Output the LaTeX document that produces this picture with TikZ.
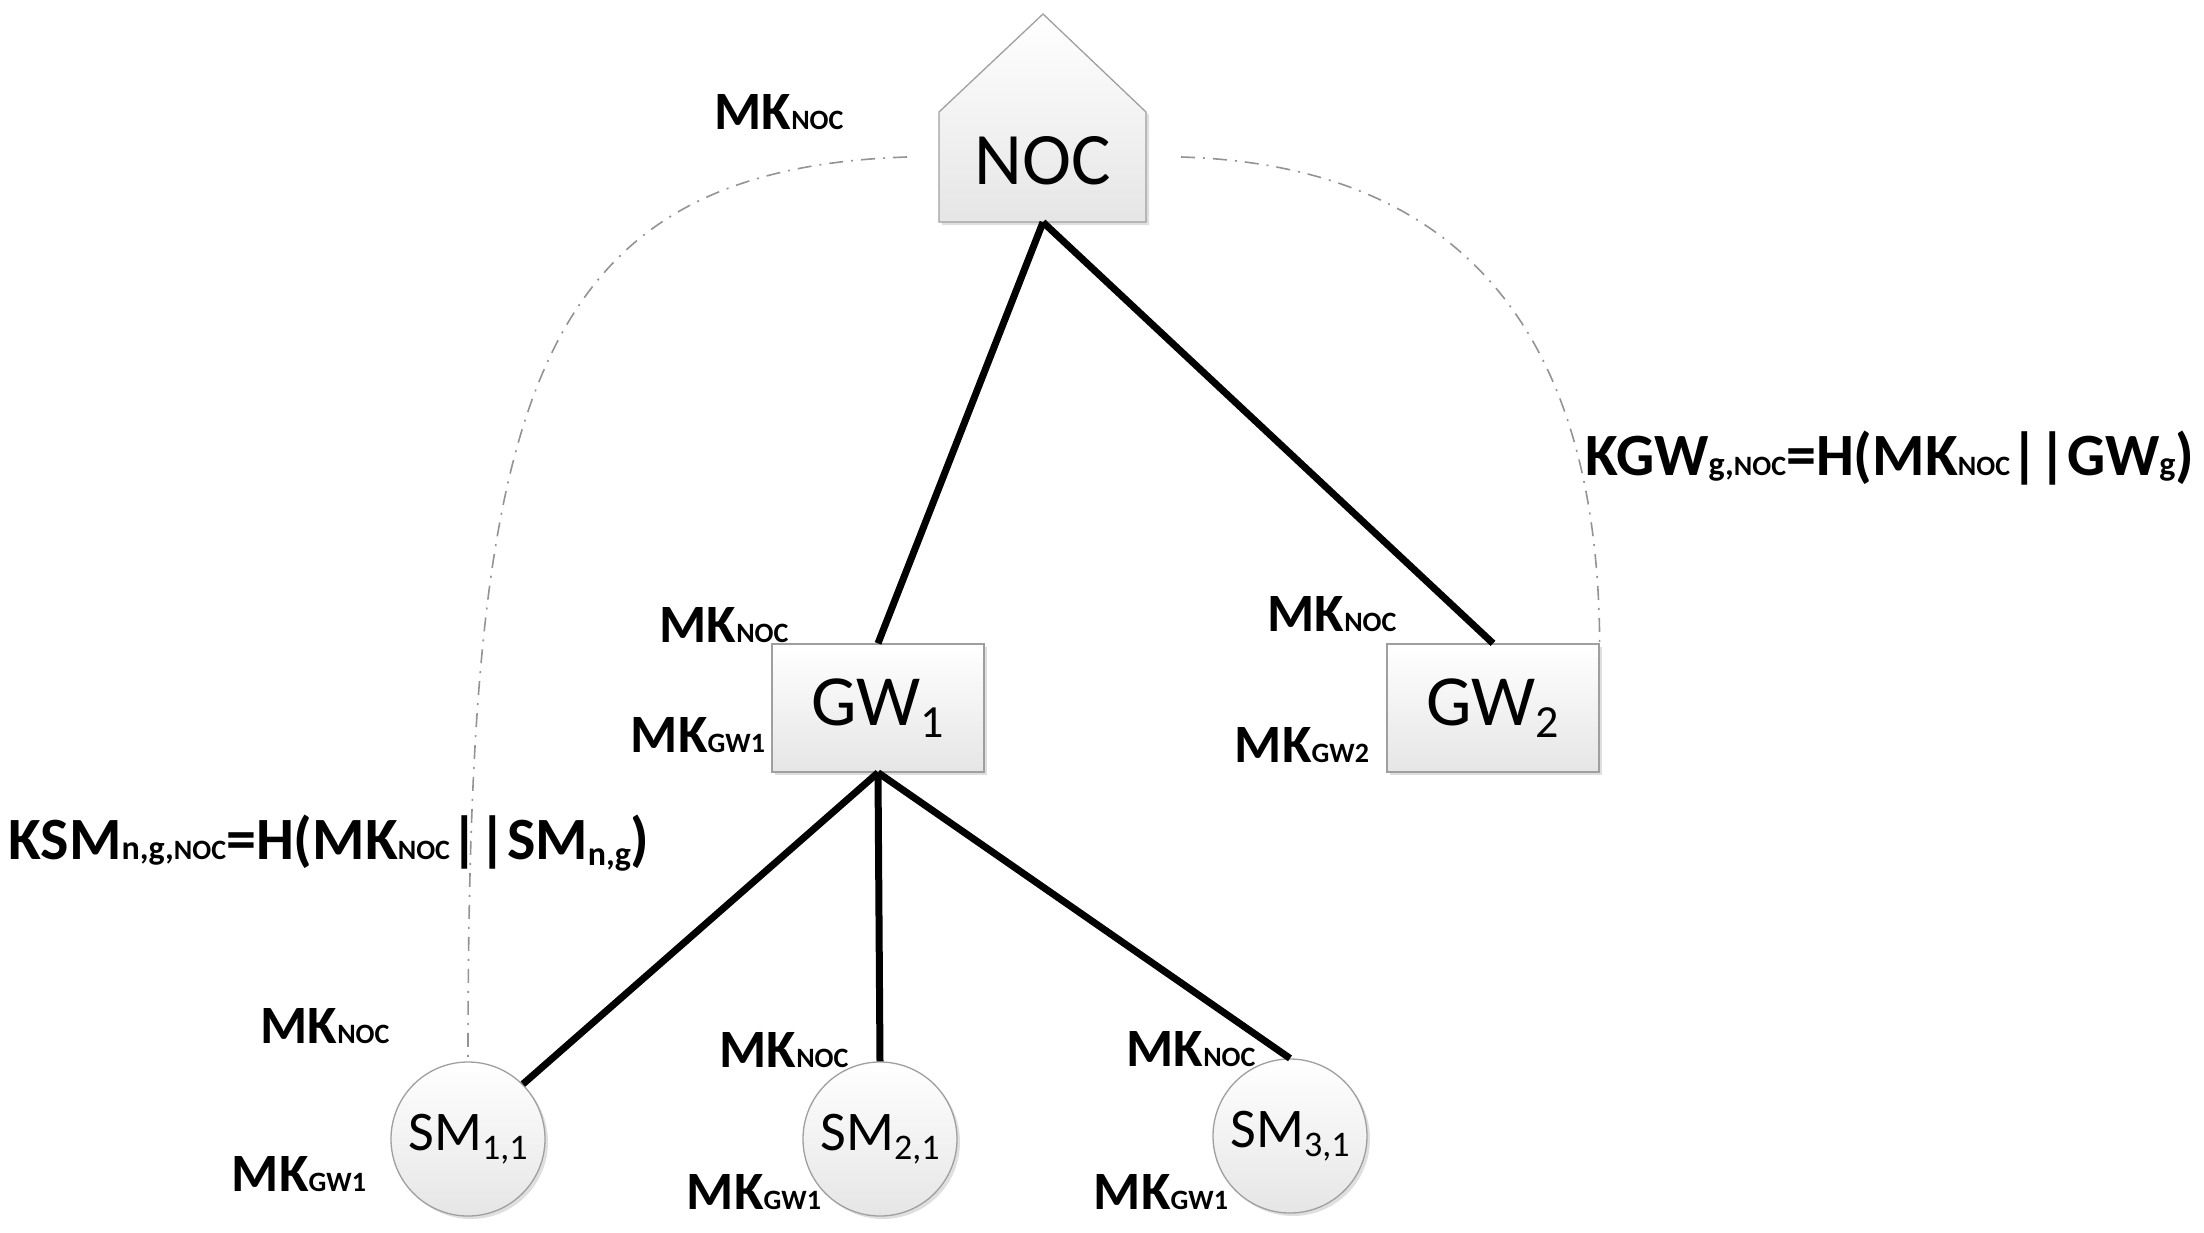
\documentclass[tikz,border=0pt]{standalone}
\usepackage{fontspec}
\setmainfont{Carlito}
\usetikzlibrary{shadows}
\newcommand\fsz[1]{\fontsize{#1}{#1}\selectfont}
\newcommand\lowsub[3]{\raisebox{-#1pt}{\fsz{#2}#3}}
\newcommand\mklabtxt[1]{MK{\fsz{28}#1}}
\begin{document}
\begin{tikzpicture}[x=1pt,y=-1pt,
  shade3d/.style={draw=gray!75, line width=1.3pt, top color=white, bottom color=gray!20,
    drop shadow={opacity=0.25, shadow xshift=3pt, shadow yshift=-3pt}},
  gwbox/.style={shade3d, rectangle, minimum width=212pt, minimum height=128pt, inner sep=0pt, font=\fsz{72}},
  smcirc/.style={shade3d, circle, minimum size=154pt, inner sep=0pt, font=\fsz{56}},
  link/.style={line width=7pt},
  keyarc/.style={draw=gray!85, line width=1.6pt, dash pattern=on 14pt off 8pt on 2pt off 8pt},
  mklab/.style={font=\bfseries\fsz{54}, inner sep=0pt},
  formula/.style={font=\bfseries\fsz{60}, inner sep=0pt}]
\useasboundingbox (0,0) rectangle (2204,1232);
% NOC house
\path[shade3d] (939,222) -- (939,112) -- (1043,14) -- (1146,112) -- (1146,222) -- cycle;
\node[minimum width=207pt, minimum height=110pt, inner sep=0pt, font=\fsz{74}] (noc) at (1043,167) {\raisebox{14pt}{NOC}};
% gateways
\node[gwbox] (gw1) at (878,708) {GW\lowsub{12}{46}{1}};
\node[gwbox] (gw2) at (1493,708) {GW\lowsub{12}{46}{2}};
% smart meters
\node[smcirc] (sm1) at (468,1139) {SM\lowsub{9}{36}{1,1}};
\node[smcirc] (sm2) at (880,1139) {SM\lowsub{9}{36}{2,1}};
\node[smcirc] (sm3) at (1290,1136) {SM\lowsub{9}{36}{3,1}};
% links
\draw[link] (noc.south) -- (gw1.north);
\draw[link] (noc.south) -- (gw2.north);
\draw[link] (gw1.south) -- (sm1.north east);
\draw[link] (gw1.south) -- (sm2.north);
\draw[link] (gw1.south) -- (sm3.north);
% key derivation arcs
\coordinate (la) at (907,157);
\coordinate (ra) at (1181,157);
\draw[keyarc] (la) .. controls (520,170) and (468,420) .. (sm1.north);
\draw[keyarc] (ra) .. controls (1450,165) and (1598,320) .. (gw2.north east);
% labels
\node[mklab] (l0) at (779,112) {\mklabtxt{NOC}};
\node[mklab] (l1) at (724,625) {\mklabtxt{NOC}};
\node[mklab] (l2) at (698,735) {\mklabtxt{GW1}};
\node[mklab] (l3) at (1332,614) {\mklabtxt{NOC}};
\node[mklab] (l4) at (1302,745) {\mklabtxt{GW2}};
\node[mklab] (l5) at (325,1026) {\mklabtxt{NOC}};
\node[mklab] (l6) at (299,1174) {\mklabtxt{GW1}};
\node[mklab] (l7) at (784,1050) {\mklabtxt{NOC}};
\node[mklab] (l8) at (754,1192) {\mklabtxt{GW1}};
\node[mklab] (l9) at (1191,1049) {\mklabtxt{NOC}};
\node[mklab] (l10) at (1161,1192) {\mklabtxt{GW1}};
% formulas
\node[formula] (fsm) at (329,843) {KSM{\fsz{34}n,g,}{\fsz{28}NOC}=H(MK{\fsz{28}NOC}||SM\lowsub{6}{34}{n,g})};
\node[formula] (fgw) at (1890,458) {KGW{\fsz{34}g,}{\fsz{28}NOC}=H(MK{\fsz{28}NOC}||GW{\fsz{34}g})};
\end{tikzpicture}
\end{document}
